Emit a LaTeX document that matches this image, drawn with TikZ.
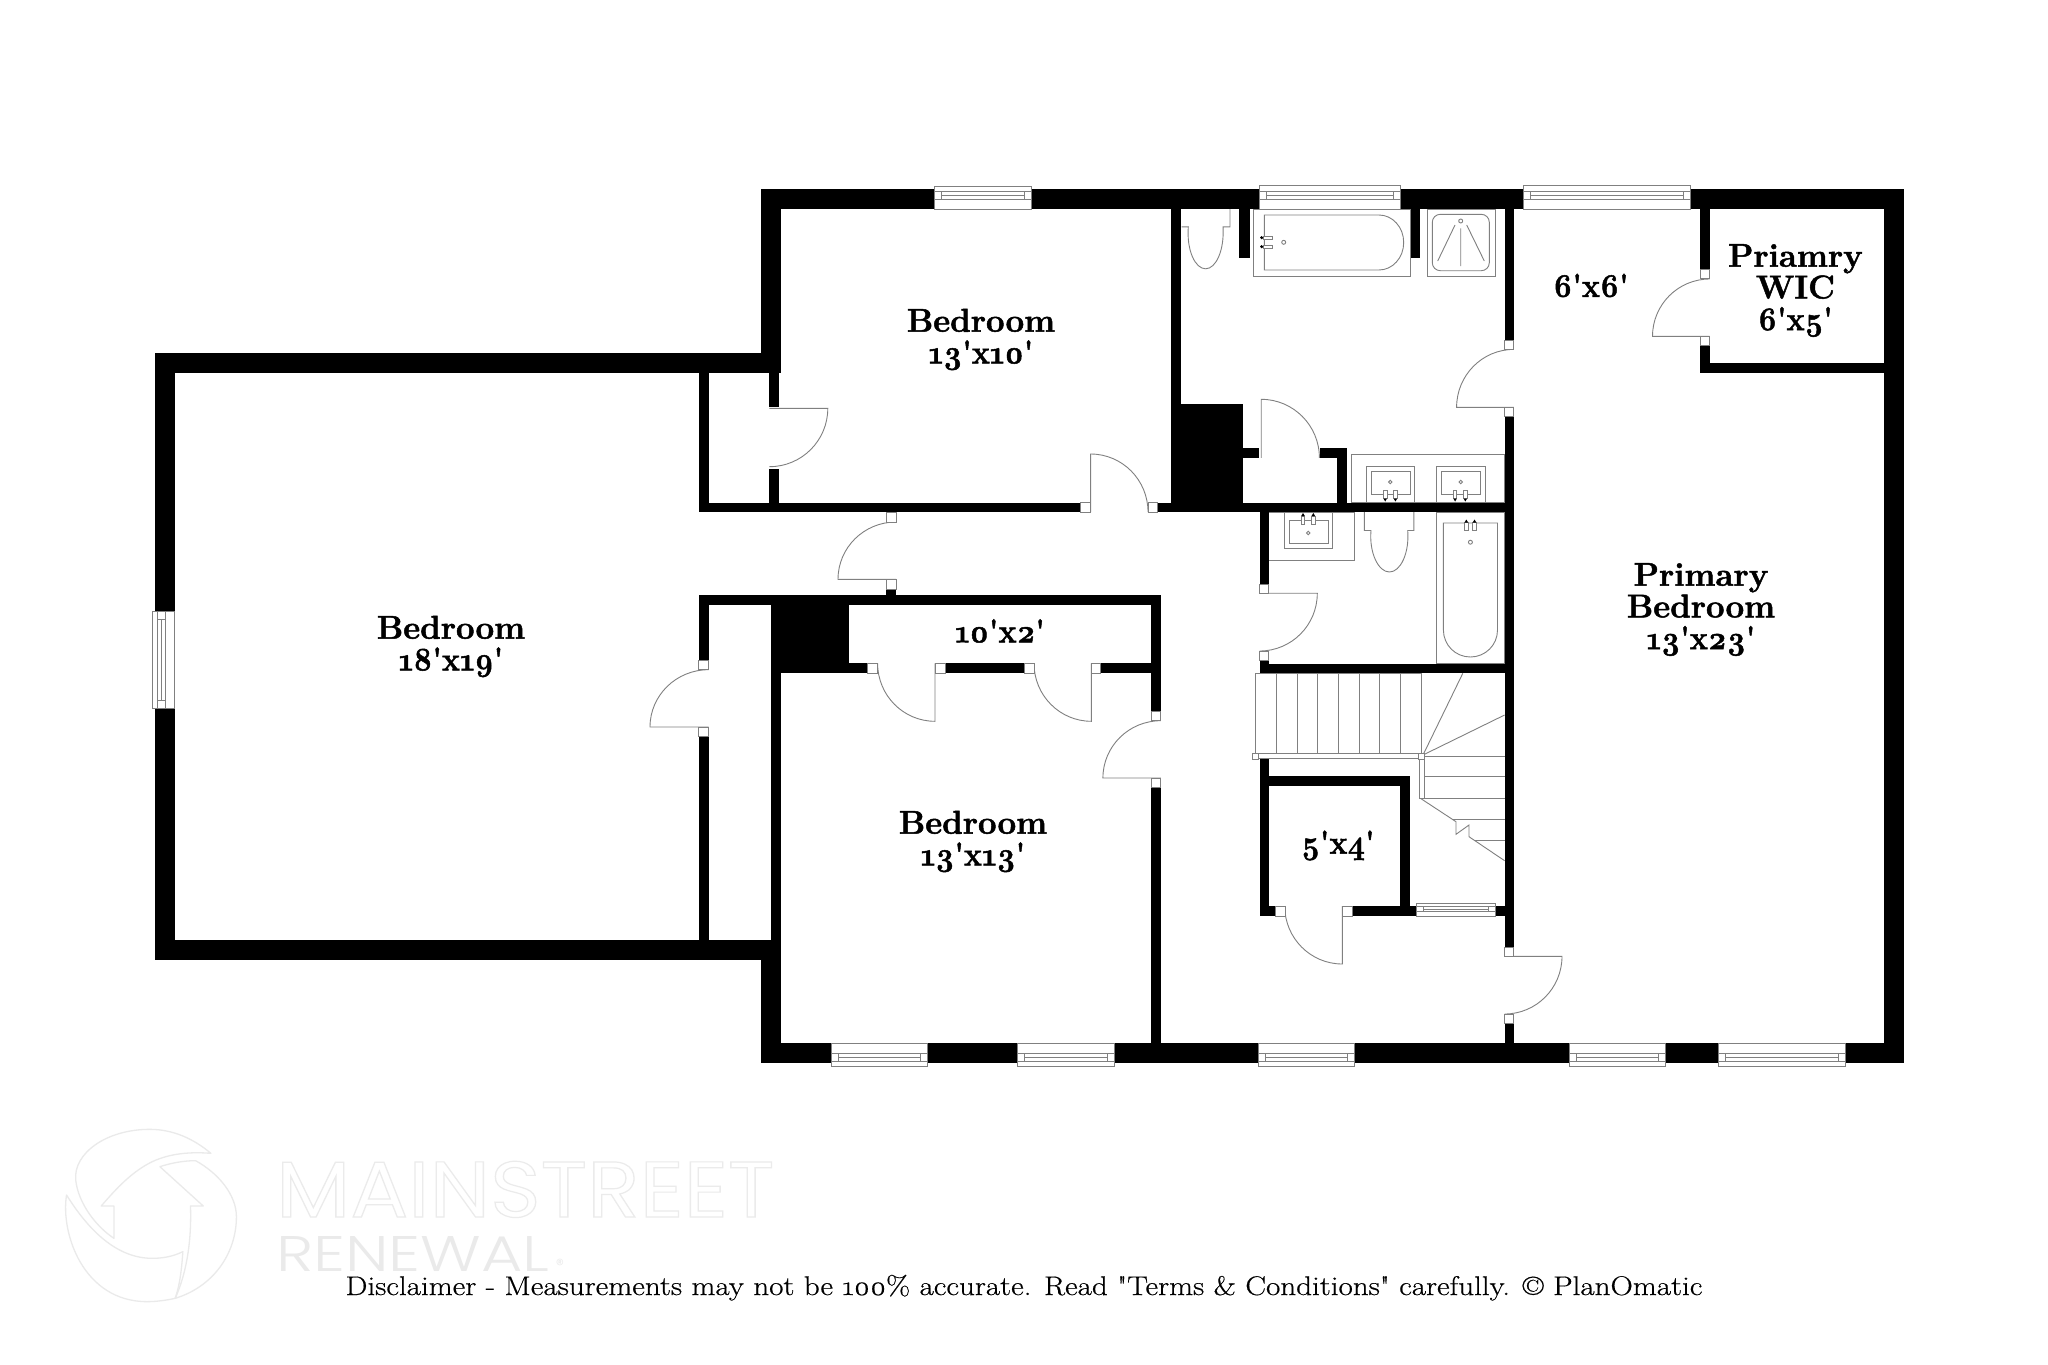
\documentclass[tikz,border=0pt]{standalone}
\usepackage{fontspec}
\newfontfamily\lab{Latin Modern Roman}[Numbers=OldStyle,BoldFeatures={FakeBold=1.5}]
\newfontfamily\discf{Latin Modern Roman}[Numbers=OldStyle,FakeStretch=1.15,FakeBold=0.5]
\newfontfamily\logofont{Poppins}
\newfontfamily\logolight{Poppins Light}
\definecolor{ln}{HTML}{808080}
\definecolor{lg}{HTML}{EAEAEA}
\newcommand{\dm}[1]{\scalebox{0.92}[1]{#1}}
\tikzset{
  fix/.style={draw=ln,line width=0.9pt,fill=white},
  thin line/.style={draw=ln,line width=0.9pt},
  roomlabel/.style={font=\lab\bfseries\fontsize{33}{31.7}\selectfont,align=center,inner sep=0pt,text=black},
  tinylabel/.style={font=\discf\fontsize{27}{28}\selectfont,inner sep=0pt,text=black,anchor=base},
  swirl/.style={draw=lg,line width=1.3pt,line join=round},
}
\newcommand{\wl}[4]{\fill[black] (#1,#2) rectangle (#3,#4);}
\newcommand{\jamb}[4]{\draw[fix] (#1,#2) rectangle (#3,#4);}
% door: hinge, leaf end, arc end
\newcommand{\door}[6]{\draw[thin line] (#1,#2) -- (#3,#4) .. controls ({#3+0.5523*(#5-#1)},{#4+0.5523*(#6-#2)}) and ({#5+0.5523*(#3-#1)},{#6+0.5523*(#4-#2)}) .. (#5,#6);}
% horizontal window: x1,x2,y1,y2, line a, mid, line b
\newcommand{\winH}[7]{\draw[fix] (#1,#3) rectangle (#2,#4);
  \draw[thin line] (#1,#5) -- (#2,#5) (#1,#7) -- (#2,#7) ({#1+7},#5) -- ({#1+7},#7) ({#2-7},#5) -- ({#2-7},#7) ({#1+7},#6) -- ({#2-7},#6);}
\newcommand{\sink}[8]{\draw[fix] (#1,#3) rectangle (#2,#4);\draw[thin line] (#5,#7) rectangle (#6,#8);}
\begin{document}
\begin{tikzpicture}[x=1pt,y=-1pt]
\useasboundingbox (0,0) rectangle (2048,1365);
\fill[white] (0,0) rectangle (2048,1365);
% --- watermark
\begin{scope}[shift={(40,1120)},x=0.5102pt,y=-0.3333pt]
\draw[swirl] (335,100) .. controls (300,55) and (260,28) .. (215,28) .. controls (130,28) and (65,100) .. (70,180) .. controls (75,250) and (110,320) .. (145,355) -- (145,258) -- (120,258) .. controls (150,205) and (180,155) .. (220,125) .. controls (255,100) and (295,95) .. (335,100) -- cycle;
\draw[swirl] (52,225) .. controls (40,340) and (85,545) .. (210,545) .. controls (230,545) and (250,540) .. (265,535) .. controls (275,490) and (278,440) .. (280,395) .. controls (260,410) and (240,415) .. (220,415) .. controls (150,415) and (95,330) .. (52,225) -- cycle;
\draw[swirl] (235,140) -- (320,258) -- (295,258) .. controls (297,350) and (290,450) .. (265,535) .. controls (340,500) and (385,400) .. (385,290) .. controls (385,225) and (350,160) .. (305,122) .. controls (280,122) and (255,130) .. (235,140) -- cycle;
\end{scope}
\node[font=\logofont\fontsize{79}{79}\selectfont,inner sep=0pt,anchor=base west] (logoa) at (276,1217) {\special{pdf:code 1 Tr 1.2 w 0.92 G}\scalebox{1.09}[1]{MAINSTREET}\special{pdf:code 0 Tr 0 G}};
\node[font=\logolight\fontsize{50}{50}\selectfont,text=lg,inner sep=0pt,anchor=base west] (logob) at (276,1271) {\scalebox{1.27}[1]{RENEWAL}};
\node[font=\logofont\fontsize{16}{16}\selectfont,text=lg,inner sep=0pt] (logoc) at (560,1265) {®};
% --- fixtures below walls
% toilets
\draw[fix] (1181.6,226.8) -- (1188.3,226.8) .. controls (1186.5,250) and (1195,268.8) .. (1205.6,268.8) .. controls (1216,268.8) and (1224.5,250) .. (1223,226.8) -- (1230,226.8) -- (1230,209);
\draw[fix] (1364.3,512) -- (1364.3,530.5) -- (1371,530.5) .. controls (1369,553) and (1378.5,572) .. (1389.4,572) .. controls (1400.5,572) and (1409.5,553) .. (1407.7,530.5) -- (1413.8,530.5) -- (1413.8,512);
% top tub
\draw[fix] (1253.7,209) rectangle (1410.3,276.7);
\draw[fix] (1264.3,215) -- (1379,215) .. controls (1392.6,215) and (1403.7,227.3) .. (1403.7,242.5) .. controls (1403.7,257.7) and (1392.6,270) .. (1379,270) -- (1264.3,270) -- cycle;
\draw[fix] (1263.3,236) rectangle (1272.7,239.3);
\draw[fix] (1263.3,245) rectangle (1272.7,248.3);
\fill[black] (1261.7,237.7) circle (1.7) (1261.7,246.7) circle (1.7);
\draw[thin line] (1283.7,242.3) circle (2);
% shower
\draw[fix] (1427,209) rectangle (1495,276.7);
\draw[thin line,rounded corners=8pt] (1432.3,214.3) rectangle (1489.3,270.7);
\draw[thin line] (1460.7,221) circle (2);
\draw[thin line] (1455,225) -- (1437.7,261) (1460.7,228.3) -- (1460.7,266) (1466.7,225) -- (1484.3,261);
% counter and double sinks
\draw[fix] (1351,454.4) rectangle (1504.6,502.6);
\sink{1366.3}{1414.8}{466.5}{502.6}{1371.4}{1410.2}{471.7}{494}
\sink{1436.7}{1485.2}{466.5}{502.6}{1441.3}{1480}{471.7}{494}
\draw[thin line] (1390.3,482) circle (1.7) (1460.7,482) circle (1.7);
\foreach \fx in {1385.2,1395.4,1455.1,1465.3}{
  \draw[fix] ({\fx-1.8},490.2) rectangle ({\fx+1.8},498.5);
  \fill[black] ({\fx-1.8},498.5) -- ({\fx+1.8},498.5) -- (\fx,501.5) -- cycle;}
% lower sink
\draw[fix] (1268.9,512) rectangle (1354.6,560.5);
\sink{1284.7}{1332.7}{512.3}{548}{1289.3}{1328}{520.6}{543.3}
\draw[thin line] (1308.2,533) circle (1.7);
\foreach \fx in {1303,1313.3}{
  \draw[fix] ({\fx-1.8},516) rectangle ({\fx+1.8},524.7);
  \fill[black] ({\fx-1.8},516) -- ({\fx+1.8},516) -- (\fx,513) -- cycle;}
% lower tub
\draw[fix] (1436.7,512) rectangle (1504.6,663.5);
\draw[fix] (1443.4,523) -- (1497.5,523) -- (1497.5,630) .. controls (1497.5,645) and (1485.4,657) .. (1470.4,657) .. controls (1455.4,657) and (1443.4,645) .. (1443.4,630) -- cycle;
\foreach \fx in {1466.3,1474.5}{
  \draw[fix] ({\fx-1.8},522.5) rectangle ({\fx+1.8},530.6);
  \fill[black] ({\fx-1.8},522.5) -- ({\fx+1.8},522.5) -- (\fx,519.5) -- cycle;}
\draw[thin line] (1470.4,542.2) circle (2);
% stairs
\draw[thin line] (1255,673.3) rectangle (1421.4,753.3);
\foreach \sx in {1276,1297,1317.3,1338.3,1359.2,1379.6,1400.5}{\draw[thin line] (\sx,673.3) -- (\sx,753.3);}
\draw[thin line] (1423,755) -- (1462.8,673.3) (1423,755) -- (1504.6,715);
\draw[thin line] (1424,756.3) -- (1504.6,756.3) (1424,776.7) -- (1504.6,776.7) (1424,798.3) -- (1504.6,798.3) (1452,819) -- (1504.6,819) (1475,840) -- (1504.6,840);
\draw[thin line] (1420.4,798.3) -- (1456,821.7) -- (1456,834.3) -- (1469,825) -- (1469,836.7) -- (1504.6,860.7);
% --- walls
\wl{761.3}{189.3}{1903.6}{209}
\wl{1883.7}{189.3}{1903.6}{1063.3}
\wl{761.3}{1043.4}{1903.6}{1063.3}
\wl{761.3}{189.3}{780.7}{373}
\wl{761.3}{940.3}{781}{1063.3}
\wl{155.3}{353.3}{780.7}{373}
\wl{155.3}{353.3}{174.7}{960}
\wl{155.3}{940.3}{781}{960}
\wl{769.4}{373}{779.2}{406.7}
\wl{769.4}{469}{779.2}{503}
\wl{698.8}{373}{708.6}{512.3}
\wl{698.8}{502.7}{1080.8}{512.3}
\wl{1157.6}{502.7}{1504.6}{512.3}
\wl{1171.4}{209}{1181.4}{404.5}
\wl{1171.4}{404.4}{1242.9}{512.3}
\wl{1242.9}{447.6}{1259.2}{457.6}
\wl{1320.4}{447.6}{1347}{457.6}
\wl{1337.2}{447.6}{1347}{502.7}
\wl{1239.3}{209}{1249.5}{257.5}
\wl{1410.7}{209}{1420}{257.5}
\wl{1504.6}{209}{1513.8}{340}
\wl{1504.6}{416.6}{1513.8}{947}
\wl{1504.6}{1023.3}{1513.8}{1043.5}
\wl{1700}{209}{1709.7}{269.2}
\wl{1700}{345.6}{1709.7}{372.8}
\wl{1700}{362.8}{1883.7}{372.8}
\wl{1259.7}{512}{1268.9}{584}
\wl{1259.7}{660.7}{1268.9}{673.4}
\wl{1259.7}{663.6}{1504.6}{673.4}
\wl{1259.7}{758}{1268.9}{916}
\wl{1259.7}{776}{1409.7}{786}
\wl{1399.5}{776}{1409.7}{916}
\wl{1259.7}{906}{1275}{916}
\wl{1352.5}{906}{1416}{916}
\wl{1495}{906}{1504.6}{916}
\wl{886}{589}{896}{595.3}
\wl{698.8}{595.3}{1160.8}{605.3}
\wl{698.8}{595.3}{708.6}{660}
\wl{698.8}{736.7}{708.6}{940.3}
\wl{1151}{595.3}{1160.8}{711}
\wl{1151}{787.7}{1160.8}{1043.5}
\wl{771}{605}{849}{673.3}
\wl{771}{673}{781}{940.3}
\wl{849}{663.3}{867.8}{673.3}
\wl{945}{663.3}{1024.5}{673.3}
\wl{1100.8}{663.3}{1151}{673.3}
% --- stair rail
\draw[fix] (1255,753.5) rectangle (1421,758.3);
\draw[fix] (1419.2,758) rectangle (1424.5,798.3);
\draw[fix] (1252,753) rectangle (1258.5,759.5);
\draw[fix] (1418,753) rectangle (1424.5,759.5);
% --- windows
\winH{1259.2}{1400.5}{185.8}{209}{191}{195}{199.3}
\winH{1523.5}{1690.3}{185.8}{209}{191}{195}{199.3}
\winH{934.7}{1031.3}{186}{209}{191}{195}{199.3}
\winH{831}{927.3}{1043.4}{1066.3}{1053.3}{1057}{1061}
\winH{1017}{1114.3}{1043.4}{1066.3}{1053.3}{1057}{1061}
\winH{1258}{1354}{1043.4}{1066.3}{1053.3}{1057}{1061}
\winH{1569}{1665}{1043.4}{1066.3}{1053.3}{1057}{1061}
\winH{1718}{1845.4}{1043.4}{1066.3}{1053.3}{1057}{1061}
\winH{1416}{1495}{903}{916}{906.7}{909.2}{911.7}
\draw[fix] (152.3,611.7) rectangle (174.7,708.3);
\draw[thin line] (157.3,611.7) -- (157.3,708.3) (165,611.7) -- (165,708.3) (157.3,619) -- (165,619) (157.3,700.7) -- (165,700.7) (161,619) -- (161,700.7);
% --- doors
\door{1709.7}{336.3}{1652.5}{336.3}{1709.7}{279}
\door{1513.8}{407.3}{1456.6}{407.3}{1513.8}{349.4}
\door{1261.2}{457.9}{1261.2}{399.3}{1319.4}{457.9}
\door{1259.7}{593.2}{1317.3}{593.2}{1259.7}{651}
\door{1342.3}{906}{1342.3}{964}{1284.7}{906}
\door{1504.6}{956.3}{1562}{956.3}{1504.6}{1014}
\door{1160.8}{778}{1102.9}{778}{1160.8}{720.7}
\door{935}{663.3}{935}{721.3}{877.6}{663.3}
\door{1091.4}{663.3}{1091.4}{721.3}{1034}{663.3}
\door{708.6}{727}{650}{727}{708.6}{669.7}
\door{896}{579.3}{838}{579.3}{896}{522}
\door{1090.6}{512}{1090.6}{454}{1148}{512}
\door{769.4}{408.3}{827.8}{408.3}{769.4}{466.7}
% --- jambs
\jamb{1700}{269.2}{1709.7}{278.8}
\jamb{1700}{336.3}{1709.7}{345.6}
\jamb{1504.6}{340}{1513.8}{349.4}
\jamb{1504.6}{407.3}{1513.8}{416.6}
\jamb{1259.7}{584}{1268.9}{593.2}
\jamb{1259.7}{651}{1268.9}{660.7}
\jamb{1275}{906}{1285}{916}
\jamb{1342.3}{906}{1352.5}{916}
\jamb{1504.6}{947}{1513.8}{956.3}
\jamb{1504.6}{1014}{1513.8}{1023.3}
\jamb{1151}{711}{1160.8}{720.7}
\jamb{1151}{778}{1160.8}{787.7}
\jamb{867.8}{663.3}{877.6}{673.3}
\jamb{935}{663.3}{945}{673.3}
\jamb{1024.5}{663.3}{1034}{673.3}
\jamb{1091.4}{663.3}{1100.8}{673.3}
\jamb{698.8}{660}{708.6}{669.7}
\jamb{698.8}{727}{708.6}{736.7}
\jamb{886}{512.3}{896}{522}
\jamb{886}{579.3}{896}{589}
\jamb{1080.8}{502.7}{1090.6}{512.3}
\jamb{1148.2}{502.7}{1157.6}{512.3}
% --- labels
\node[roomlabel] (bigbed) at (451,646.5) {Bedroom\\\dm{18'x19'}};
\node[roomlabel] (bed1310) at (981,339.5) {Bedroom\\\dm{13'x10'}};
\node[roomlabel] (bed1313) at (973,841.5) {Bedroom\\\dm{13'x13'}};
\node[roomlabel] (cl102) at (1000,631) {\dm{10'x2'}};
\node[roomlabel] (primary) at (1701,609.5) {Primary\\Bedroom\\\dm{13'x23'}};
\node[roomlabel] (wic) at (1795.4,290.5) {Priamry\\WIC\\\dm{6'x5'}};
\node[roomlabel] (bath66) at (1591,285.5) {\dm{6'x6'}};
\node[roomlabel] (cl54) at (1338,845.5) {\dm{5'x4'}};
\node[tinylabel] (disc) at (1024,1295) {Disclaimer - Measurements may not be 100\% accurate. Read "Terms \& Conditions" carefully. © PlanOmatic};
\end{tikzpicture}
\end{document}
